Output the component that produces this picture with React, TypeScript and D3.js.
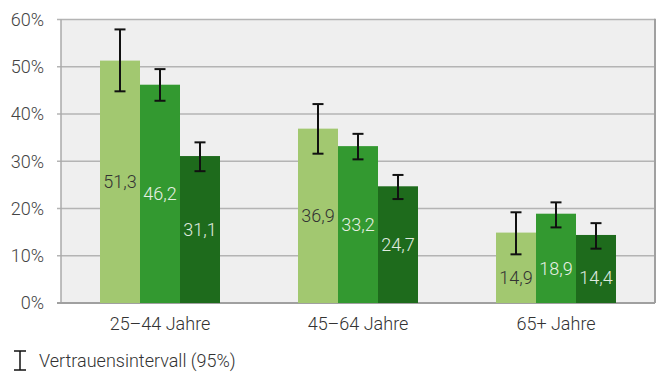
import React from "react";
import * as d3 from "d3";

const categories = ["25–44 Jahre", "45–64 Jahre", "65+ Jahre"];
const seriesKeys = ["a", "b", "c"];
const values = [
  [51.3, 46.2, 31.1],
  [36.9, 33.2, 24.7],
  [14.9, 18.9, 14.4],
];
const ciLow = [
  [44.8, 42.8, 27.9],
  [31.6, 30.4, 22.0],
  [10.3, 16.0, 11.5],
];
const ciHigh = [
  [57.9, 49.5, 34.0],
  [42.1, 35.8, 27.1],
  [19.2, 21.3, 16.9],
];
// vertical anchor of the value labels, in percent units
const labelAnchor = [
  [25.65, 23.1, 15.55],
  [18.45, 16.6, 12.35],
  [5.4, 7.3, 5.4],
];
const yTicks = [0, 10, 20, 30, 40, 50, 60];
const colors = ["#a2c870", "#339930", "#1e6b1c"];
const labelColors = ["#333333", "#e8f0e4", "#e0ebe0"];
const legendLabel = "Vertrauensintervall (95%)";

export default function App() {
  const W = 662, H = 374;
  const left = 61, right = 655, top = 19.5, bottom = 303;
  const x0 = d3.scaleBand<string>().domain(categories).range([left, right]).paddingInner(0).paddingOuter(0);
  const barW = 40;
  const x1 = d3.scaleBand<string>().domain(seriesKeys).range([0, barW * 3]);
  const y = d3.scaleLinear().domain([0, 60]).range([bottom, top]);
  const font = "Roboto, 'Noto Sans', sans-serif";
  const fs = 18;
  const fw = 300;
  return (
    <svg width={W} height={H} style={{ position: "absolute", left: 0, top: 0 }} fontFamily={font} fontWeight={fw}>
      <rect x={left} y={top} width={right - left} height={bottom - top} fill="#efefef" />
      {yTicks.map((t) => (
        <g key={t}>
          <line x1={57} x2={right} y1={y(t)} y2={y(t)} stroke="#b4b4b4" strokeWidth={1.5} />
          <text x={44} y={y(t)} dy="0.36em" textAnchor="end" fontSize={fs} fill="#444">
            {t}%
          </text>
        </g>
      ))}
      <line x1={left} x2={left} y1={top} y2={bottom} stroke="#aaaaaa" strokeWidth={1.5} />
      <line x1={right} x2={right} y1={top - 0.7} y2={bottom} stroke="#a0a0a0" strokeWidth={2} />
      <line x1={57} x2={right} y1={bottom} y2={bottom} stroke="#a0a0a0" strokeWidth={2} />
      {categories.map((c, i) => {
        const gx = (x0(c) ?? 0) + (x0.bandwidth() - barW * 3) / 2;
        return (
          <g key={c}>
            {seriesKeys.map((k, j) => {
              const v = values[i][j];
              const bx = gx + (x1(k) ?? 0);
              const cx = bx + barW / 2;
              return (
                <g key={k}>
                  <rect x={bx} y={y(v)} width={barW} height={y(0) - y(v)} fill={colors[j]} />
                  <text x={cx} y={y(labelAnchor[i][j])} dy="0.36em" textAnchor="middle" fontSize={fs} fill={labelColors[j]}>
                    {v.toFixed(1).replace(".", ",")}
                  </text>
                  <g stroke="#111" strokeWidth={2}>
                    <line x1={cx} x2={cx} y1={y(ciHigh[i][j])} y2={y(ciLow[i][j])} />
                    <line x1={cx - 5.5} x2={cx + 5.5} y1={y(ciHigh[i][j])} y2={y(ciHigh[i][j])} />
                    <line x1={cx - 5.5} x2={cx + 5.5} y1={y(ciLow[i][j])} y2={y(ciLow[i][j])} />
                  </g>
                </g>
              );
            })}
            <text x={(x0(c) ?? 0) + x0.bandwidth() / 2} y={330} textAnchor="middle" fontSize={fs} fill="#333">
              {c}
            </text>
          </g>
        );
      })}
      <g stroke="#111" strokeWidth={1.5}>
        <line x1={20} x2={20} y1={351} y2={370} />
        <line x1={14} x2={26} y1={351} y2={351} />
        <line x1={14} x2={26} y1={370} y2={370} />
      </g>
      <text x={39} y={367} fontSize={fs} fill="#333">{legendLabel}</text>
    </svg>
  );
}
